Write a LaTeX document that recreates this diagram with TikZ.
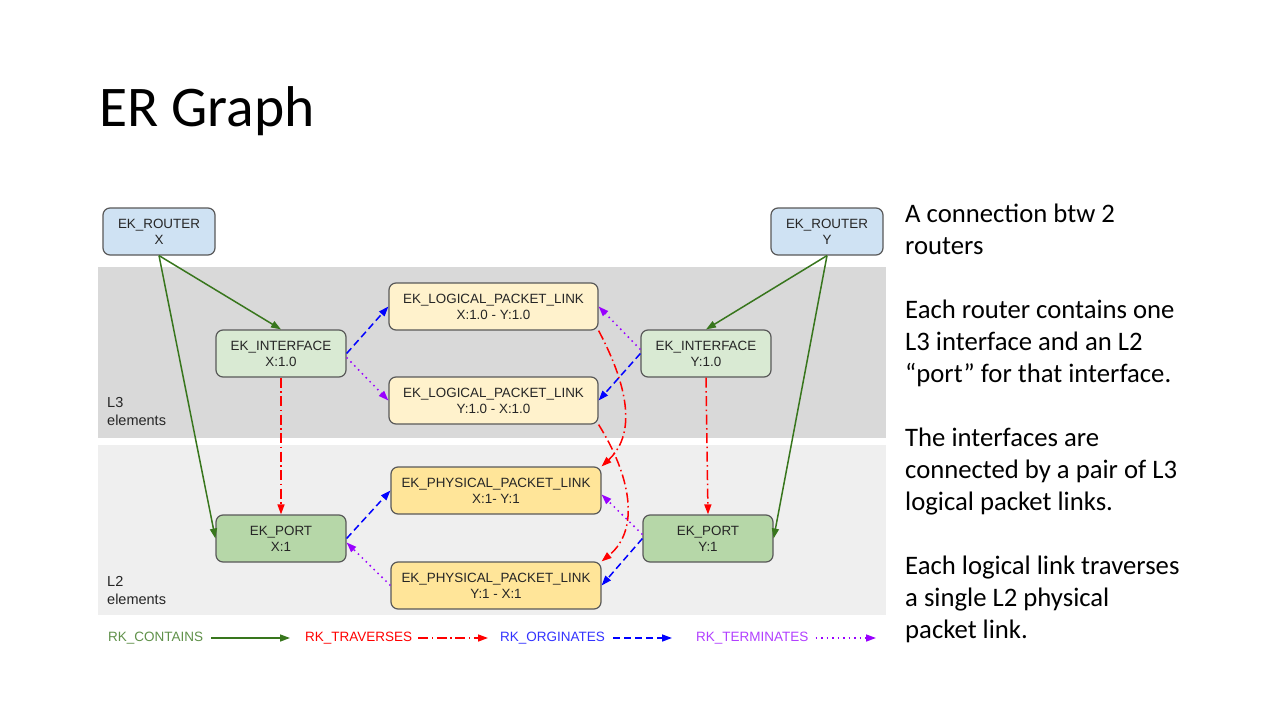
\documentclass[tikz,border=0pt]{standalone}
\usepackage{fontspec}
\setmainfont{Liberation Sans}
\newfontfamily\slidefont{Carlito}
\usetikzlibrary{arrows.meta}
\definecolor{routerfill}{HTML}{CFE2F3}
\definecolor{ifacefill}{HTML}{D9EAD3}
\definecolor{portfill}{HTML}{B6D7A8}
\definecolor{logfill}{HTML}{FFF2CC}
\definecolor{physfill}{HTML}{FFE599}
\definecolor{boxline}{HTML}{595959}
\definecolor{lthree}{HTML}{D9D9D9}
\definecolor{ltwo}{HTML}{EFEFEF}
\definecolor{cgreen}{HTML}{38761D}
\definecolor{cred}{HTML}{FF0000}
\definecolor{cblue}{HTML}{0000FF}
\definecolor{cpurple}{HTML}{9900FF}
\tikzset{
  entity/.style={draw=boxline, line width=1.2pt, rounded corners=7pt,
    minimum height=47pt, align=center, inner sep=0pt, text=black!85,
    font=\fontsize{13.4}{16}\selectfont},
  legend/.style={anchor=west, inner sep=0pt, font=\fontsize{13.5}{16}\selectfont},
  tip/.style={-{Triangle[length=10pt,width=7pt]}},
  contains/.style={tip, draw=cgreen, line width=1.5pt},
  traverses/.style={tip, draw=cred, line width=1.5pt,
    dash pattern=on 10pt off 3.5pt on 1.5pt off 3.5pt},
  originates/.style={tip, draw=cblue, line width=1.5pt,
    dash pattern=on 7pt off 4pt},
  terminates/.style={tip, draw=cpurple, line width=1.5pt,
    dash pattern=on 1.5pt off 4pt}
}
\begin{document}
\begin{tikzpicture}[x=1pt,y=-1pt]
	\useasboundingbox[fill=white] (0,0) rectangle (1280,720);

	% title and notes
	\node[anchor=base west, inner sep=0pt, font=\slidefont\fontsize{57.5}{70}\selectfont]
		(title) at (99,126) {ER Graph};
	\node[anchor=north west, inner sep=0pt, align=left,
		font=\slidefont\fontsize{26.7}{32}\selectfont] (notes) at (905,204)
		{A connection btw 2\\ routers\\[32pt]
		 Each router contains one\\ L3 interface and an L2\\ “port” for that interface.\\[32pt]
		 The interfaces are\\ connected by a pair of L3\\ logical packet links.\\[32pt]
		 Each logical link traverses\\ a single L2 physical\\ packet link.};

	% layer bands
	\fill[lthree] (98,267) rectangle (886,438);
	\fill[ltwo] (98,445) rectangle (886,615);
	\node[anchor=north west, inner sep=0pt, align=left,
		font=\fontsize{14.5}{18}\selectfont, text=black!85] (lthreelbl) at (107,397) {L3\\ elements};
	\node[anchor=north west, inner sep=0pt, align=left,
		font=\fontsize{14.5}{18}\selectfont, text=black!85] (ltwolbl) at (107,576) {L2\\ elements};

	% entities
	\node[entity, fill=routerfill, minimum width=112pt] (rx) at (159,231.5) {EK\_ROUTER\\ X};
	\node[entity, fill=routerfill, minimum width=112pt] (ry) at (827,231.5) {EK\_ROUTER\\ Y};
	\node[entity, fill=ifacefill, minimum width=130pt] (ix) at (281,353.5) {EK\_INTERFACE\\ X:1.0};
	\node[entity, fill=ifacefill, minimum width=130pt] (iy) at (706,353.5) {EK\_INTERFACE\\ Y:1.0};
	\node[entity, fill=logfill, minimum width=209pt] (lxy) at (493.5,306.5)
		{EK\_LOGICAL\_PACKET\_LINK\\ X:1.0 - Y:1.0};
	\node[entity, fill=logfill, minimum width=209pt] (lyx) at (493.5,400.5)
		{EK\_LOGICAL\_PACKET\_LINK\\ Y:1.0 - X:1.0};
	\node[entity, fill=physfill, minimum width=210pt] (pxy) at (496,490.5)
		{EK\_PHYSICAL\_PACKET\_LINK\\ X:1- Y:1};
	\node[entity, fill=physfill, minimum width=210pt] (pyx) at (496,585.5)
		{EK\_PHYSICAL\_PACKET\_LINK\\ Y:1 - X:1};
	\node[entity, fill=portfill, minimum width=130pt] (px) at (281,538.5) {EK\_PORT\\ X:1};
	\node[entity, fill=portfill, minimum width=130pt] (py) at (708,538.5) {EK\_PORT\\ Y:1};

	% contains
	\draw[contains] (rx.south) -- (ix.north);
	\draw[contains] (rx.south) -- (px.west);
	\draw[contains] (ry.south) -- (iy.north);
	\draw[contains] (ry.south) -- (py.east);

	% traverses
	\draw[traverses] (ix.south) -- (px.north);
	\draw[traverses] (iy.south) -- (py.north);
	\draw[traverses] (lxy.south east) .. controls +(37,70) and +(29,-27) .. (pxy.north east);
	\draw[traverses] (lyx.south east) .. controls +(32,51) and +(39,-32) .. (pyx.north east);

	% originates
	\draw[originates] (ix.east) -- (lxy.west);
	\draw[originates] (iy.west) -- (lyx.east);
	\draw[originates] (px.east) -- (pxy.west);
	\draw[originates] (py.west) -- (pyx.east);

	% terminates
	\draw[terminates] ([yshift=-4pt]ix.east) -- (lyx.west);
	\draw[terminates] ([yshift=4pt]iy.west) -- (lxy.east);
	\draw[terminates] (pyx.west) -- ([yshift=-4pt]px.east);
	\draw[terminates] ([yshift=4pt]py.west) -- ([yshift=-4pt]pxy.east);

	% legend
	\node[legend, text=cgreen!80!white] (lgcont) at (108,638) {RK\_CONTAINS};
	\node[legend, text=cred] (lgtrav) at (305,638) {RK\_TRAVERSES};
	\node[legend, text=cblue!80!white] (lgorig) at (500,638) {RK\_ORGINATES};
	\node[legend, text=cpurple!75!white] (lgterm) at (696,638) {RK\_TERMINATES};
	\coordinate (lgcontend) at (290,638);
	\coordinate (lgtravend) at (488,638);
	\coordinate (lgorigend) at (672,638);
	\coordinate (lgtermend) at (876,638);
	\draw[contains] ([xshift=8pt]lgcont.east) -- (lgcontend);
	\draw[traverses] ([xshift=6pt]lgtrav.east) -- (lgtravend);
	\draw[originates] ([xshift=8pt]lgorig.east) -- (lgorigend);
	\draw[terminates] ([xshift=7pt]lgterm.east) -- (lgtermend);
\end{tikzpicture}
\end{document}
